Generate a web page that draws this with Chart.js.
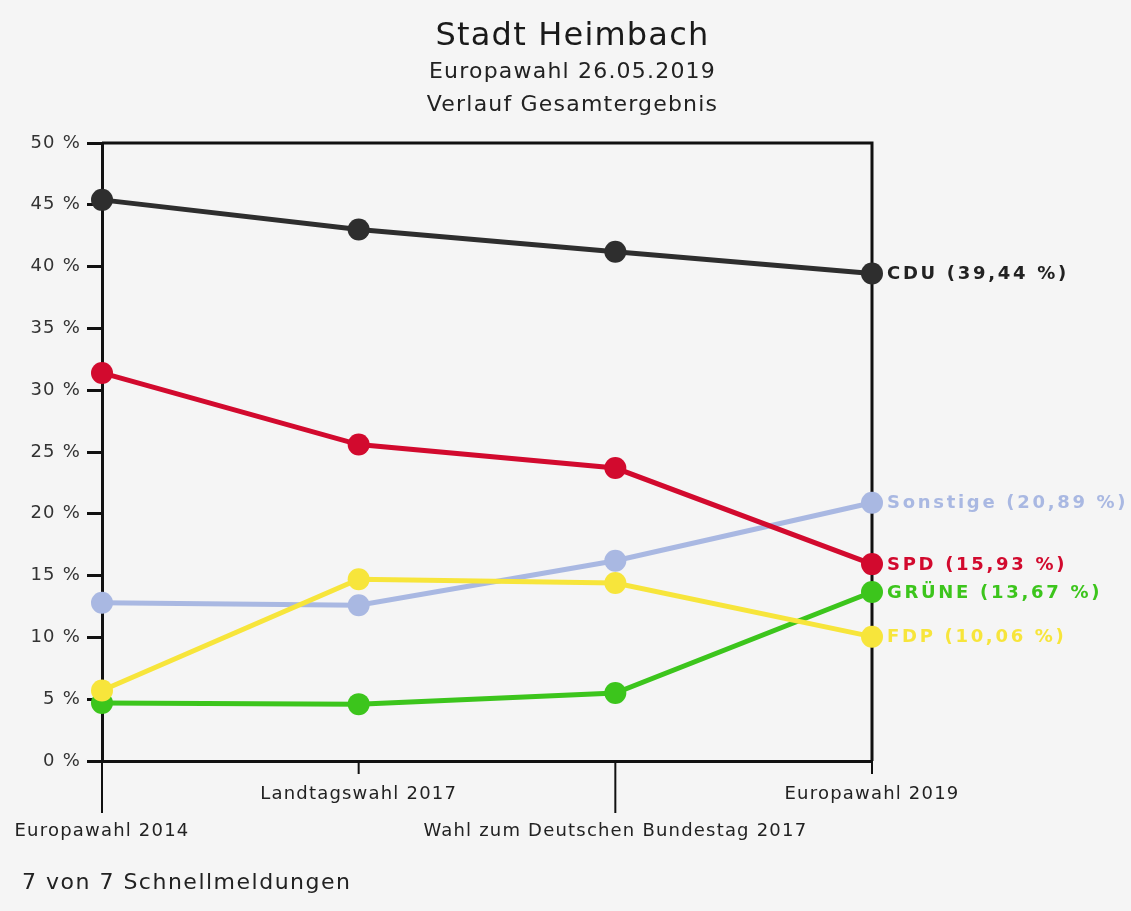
<!DOCTYPE html>
<html>
<head>
<meta charset="utf-8">
<script src="https://cdn.jsdelivr.net/npm/chart.js@4/dist/chart.umd.min.js"></script>
<style>
  body { margin: 0; background: #f5f5f5; }
  #wrap { position: relative; width: 1131px; height: 911px; }
  #foot {
    position: absolute; left: 22px; top: 869px;
    font: 22px "DejaVu Sans"; line-height: 26px; letter-spacing: 1.5px; color: #222;
  }
</style>
</head>
<body>
<div id="wrap">
  <canvas id="verlauf" width="1131" height="911"></canvas>
  <div id="foot">7 von 7 Schnellmeldungen</div>
</div>
<script>
const wahlen = ['Europawahl 2014', 'Landtagswahl 2017', 'Wahl zum Deutschen Bundestag 2017', 'Europawahl 2019'];
const yTicks = [0, 5, 10, 15, 20, 25, 30, 35, 40, 45, 50];

const cdu = [45.4, 43.0, 41.2, 39.44];
const spd = [31.4, 25.6, 23.7, 15.93];
const sonstige = [12.8, 12.6, 16.2, 20.89];
const gruene = [4.7, 4.6, 5.5, 13.67];
const fdp = [5.7, 14.7, 14.4, 10.06];

const FONT = 'DejaVu Sans';

function serie(label, data, color) {
    return {
        label: label,
        data: data,
        borderColor: color,
        backgroundColor: color,
        pointBackgroundColor: color,
        borderWidth: 5,
        pointRadius: 11,
        pointBorderWidth: 0,
        tension: 0
    };
}

// etwas Laufweite fuer alle Texte
const spacing = {
    id: 'spacing',
    beforeUpdate(chart) { chart.ctx.letterSpacing = '1.2px'; },
    beforeDraw(chart) { chart.ctx.letterSpacing = '1.2px'; }
};

// Rahmen oben/rechts und die Striche an der x-Achse
const rahmen = {
    id: 'rahmen',
    beforeDatasetsDraw(chart) {
        const { ctx, chartArea } = chart;
        const x = chart.scales.x;
        ctx.save();
        ctx.strokeStyle = '#111';
        ctx.lineWidth = 3;
        ctx.beginPath();
        ctx.moveTo(chartArea.left, chartArea.top);
        ctx.lineTo(chartArea.right, chartArea.top);
        ctx.lineTo(chartArea.right, chartArea.bottom);
        ctx.stroke();
        ctx.lineWidth = 2;
        wahlen.forEach((w, i) => {
            const px = x.getPixelForValue(i);
            ctx.beginPath();
            ctx.moveTo(px, chartArea.bottom);
            ctx.lineTo(px, chartArea.bottom + (i % 2 ? 13 : 52));
            ctx.stroke();
        });
        ctx.restore();
    }
};

// Beschriftung am Ende jeder Linie
const endLabels = {
    id: 'endLabels',
    afterDatasetsDraw(chart) {
        const ctx = chart.ctx;
        ctx.save();
        ctx.font = 'bold 18px "' + FONT + '"';
        ctx.letterSpacing = '2.7px';
        ctx.textBaseline = 'middle';
        ctx.textAlign = 'left';
        chart.data.datasets.forEach((ds, i) => {
            const pts = chart.getDatasetMeta(i).data;
            const p = pts[pts.length - 1];
            const v = ds.data[ds.data.length - 1];
            ctx.fillStyle = ds.label === 'CDU' ? '#222' : ds.borderColor;
            ctx.fillText(ds.label + ' (' + v.toFixed(2).replace('.', ',') + ' %)', p.x + 15, p.y + 1);
        });
        ctx.restore();
    }
};

const ctx = document.getElementById('verlauf').getContext('2d');
const chart = new Chart(ctx, {
    type: 'line',
    data: {
        labels: wahlen,
        datasets: [
            serie('CDU', cdu, '#2e2e2e'),
            serie('SPD', spd, '#d20a2e'),
            serie('FDP', fdp, '#f7e53b'),
            serie('Sonstige', sonstige, '#a9b8e2'),
            serie('GRÜNE', gruene, '#3cc51c')
        ]
    },
    plugins: [spacing, rahmen, endLabels],
    options: {
        responsive: false,
        animation: false,
        events: [],
        layout: {
            padding: { left: 14, right: 0, top: 0, bottom: 0 }
        },
        plugins: {
            legend: { display: false },
            tooltip: { enabled: false },
            title: {
                display: true,
                text: 'Stadt Heimbach',
                color: '#1a1a1a',
                font: { family: FONT, size: 32, weight: 'normal' },
                padding: { top: 17, bottom: 0 }
            },
            subtitle: {
                display: true,
                text: ['Europawahl 26.05.2019', 'Verlauf Gesamtergebnis'],
                color: '#222',
                font: { family: FONT, size: 22, lineHeight: 1.48 },
                padding: { top: 1, bottom: 21.5 }
            }
        },
        scales: {
            x: {
                offset: false,
                grid: { display: false },
                border: { display: true, color: '#111', width: 3 },
                afterFit(scale) { scale.height = 150; },
                ticks: {
                    autoSkip: false,
                    maxRotation: 0,
                    padding: 6.5,
                    color: '#222',
                    font: { family: FONT, size: 18, lineHeight: 2.05 },
                    callback: function (v, i) {
                        return i % 2 ? wahlen[i] : ['', wahlen[i]];
                    }
                }
            },
            y: {
                min: 0,
                max: 50,
                afterFit(scale) { scale.width = 88; },
                afterBuildTicks(scale) { scale.ticks = yTicks.map(v => ({ value: v })); },
                grid: {
                    drawOnChartArea: false,
                    drawTicks: true,
                    tickLength: 15,
                    color: '#111',
                    lineWidth: 3
                },
                border: { display: true, color: '#111', width: 3 },
                ticks: {
                    padding: 6,
                    color: '#333',
                    font: { family: FONT, size: 18 },
                    callback: v => v + ' %'
                }
            },
            // Platz rechts fuer die Beschriftungen
            rechts: {
                type: 'linear',
                position: 'right',
                afterFit(scale) { scale.width = 259; },
                grid: { display: false },
                border: { display: false },
                ticks: { display: false }
            }
        }
    }
});
</script>
</body>
</html>
